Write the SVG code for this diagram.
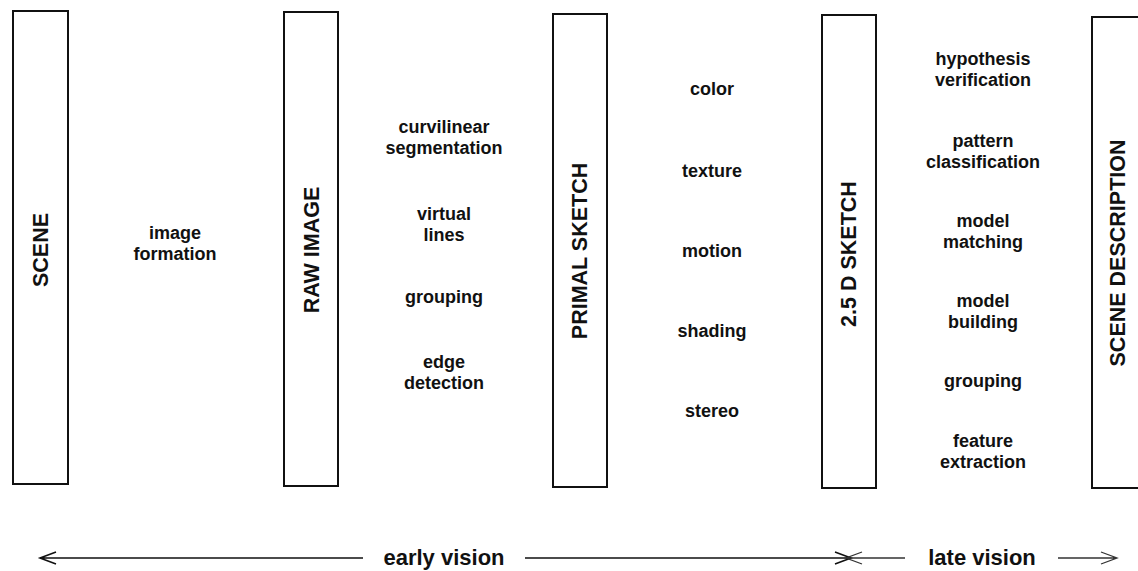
<svg xmlns="http://www.w3.org/2000/svg" width="1138" height="571" viewBox="0 0 1138 571">
<defs>
<style>
.box{fill:#fff;stroke:#111;stroke-width:2}
.blabel{font-family:"Liberation Sans",Arial,sans-serif;font-weight:bold;font-size:21.5px;fill:#111;text-anchor:middle;dominant-baseline:central}
.item{font-family:"Liberation Sans",Arial,sans-serif;font-weight:bold;font-size:18px;fill:#111;text-anchor:middle}
.big{font-family:"Liberation Sans",Arial,sans-serif;font-weight:bold;font-size:22px;fill:#111;text-anchor:middle}
.ln{fill:none;stroke:#111;stroke-width:1.6}
.thin{fill:none;stroke:#333;stroke-width:1.3}
</style>
</defs>
<rect width="1138" height="571" fill="#fff"/>
<g id="scene">
<rect class="box" x="13" y="11" width="55" height="473"/>
<text class="blabel" transform="translate(41,250) rotate(-90)">SCENE</text>
</g>
<g id="raw-image">
<rect class="box" x="284" y="12" width="54" height="474"/>
<text class="blabel" transform="translate(312,250) rotate(-90)">RAW IMAGE</text>
</g>
<g id="primal-sketch">
<rect class="box" x="553" y="14" width="54" height="473"/>
<text class="blabel" transform="translate(580,251) rotate(-90)">PRIMAL SKETCH</text>
</g>
<g id="sketch-25d">
<rect class="box" x="822" y="15" width="54" height="473"/>
<text class="blabel" transform="translate(849,254) rotate(-90)">2.5 D SKETCH</text>
</g>
<g id="scene-description">
<rect class="box" x="1092" y="17" width="56" height="471"/>
<text class="blabel" transform="translate(1118,253) rotate(-90)">SCENE DESCRIPTION</text>
</g>
<g id="processes-1">
<text class="item" x="175" y="239">image</text>
<text class="item" x="175" y="260">formation</text>
</g>
<g id="processes-2">
<text class="item" x="444" y="133">curvilinear</text>
<text class="item" x="444" y="154">segmentation</text>
<text class="item" x="444" y="220">virtual</text>
<text class="item" x="444" y="241">lines</text>
<text class="item" x="444" y="303">grouping</text>
<text class="item" x="444" y="368">edge</text>
<text class="item" x="444" y="389">detection</text>
</g>
<g id="processes-3">
<text class="item" x="712" y="95">color</text>
<text class="item" x="712" y="177">texture</text>
<text class="item" x="712" y="257">motion</text>
<text class="item" x="712" y="337">shading</text>
<text class="item" x="712" y="417">stereo</text>
</g>
<g id="processes-4">
<text class="item" x="983" y="65">hypothesis</text>
<text class="item" x="983" y="86">verification</text>
<text class="item" x="983" y="147">pattern</text>
<text class="item" x="983" y="168">classification</text>
<text class="item" x="983" y="227">model</text>
<text class="item" x="983" y="248">matching</text>
<text class="item" x="983" y="307">model</text>
<text class="item" x="983" y="328">building</text>
<text class="item" x="983" y="387">grouping</text>
<text class="item" x="983" y="447">feature</text>
<text class="item" x="983" y="468">extraction</text>
</g>
<g id="connectors">
<path class="ln" d="M40,558 H363 M56,552 L40,558 L56,564"/>
<path class="ln" d="M525,558 H851 M835,552 L851,558 L835,564"/>
<path class="thin" d="M846,558 H905 M862,552 L846,558 L862,564"/>
<path class="thin" d="M1058,558 H1117 M1101,552 L1117,558 L1101,564"/>
</g>
<g id="span-labels">
<text class="big" x="444" y="565">early vision</text>
<text class="big" x="982" y="565">late vision</text>
</g>
</svg>
